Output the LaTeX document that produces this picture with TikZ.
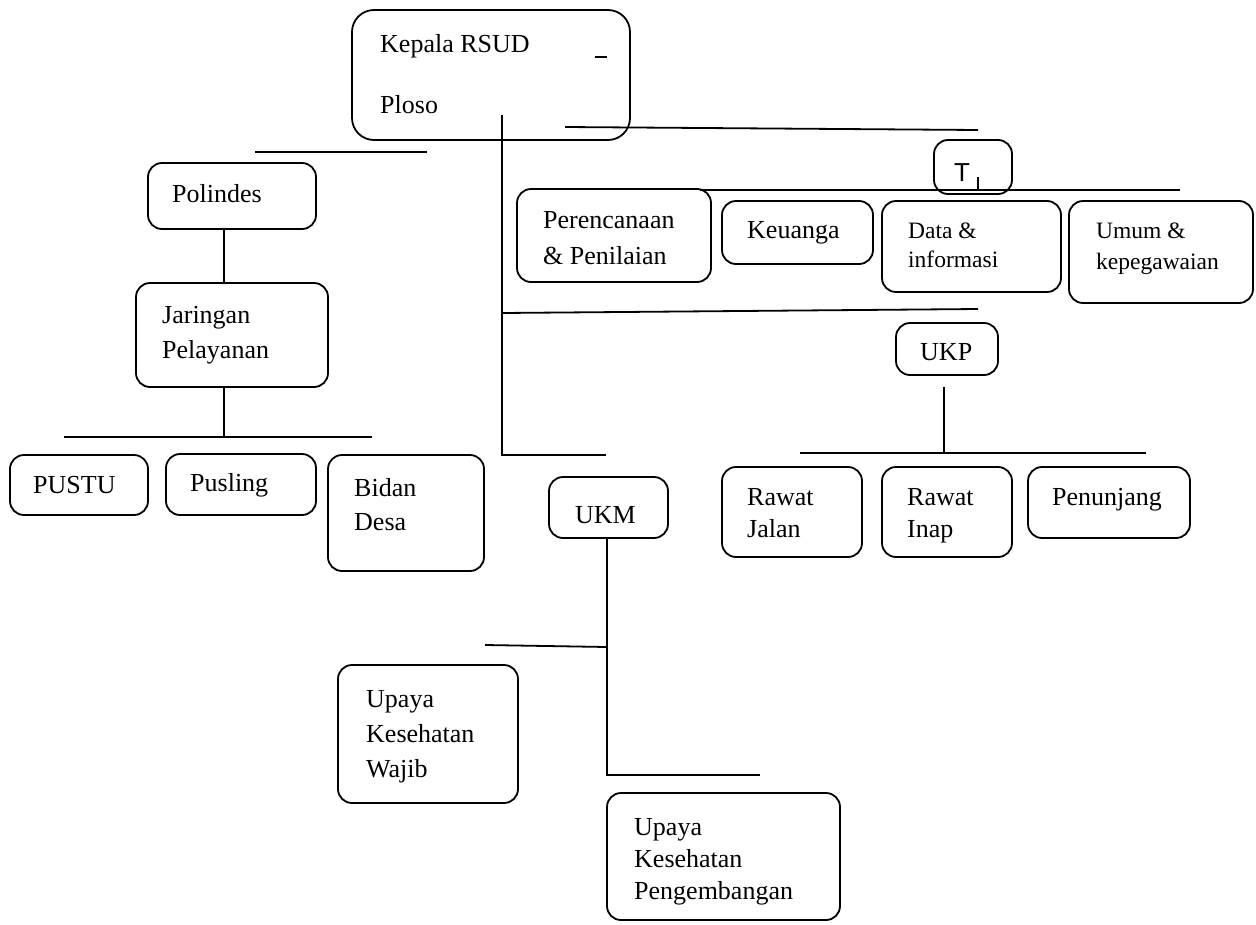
\documentclass[tikz,border=0pt]{standalone}
\usepackage{fontspec}
\setmainfont{Liberation Serif}
\newfontfamily\arialfont{Liberation Sans}
\usetikzlibrary{fit}
\begin{document}
\begin{tikzpicture}[x=1pt,y=-1pt,
  box/.style={draw, line width=1.8pt, rounded corners=14pt, inner sep=0pt},
  bigbox/.style={box, rounded corners=22pt},
  txt/.style={anchor=base west, inner sep=0pt, font=\fontsize{26}{30}\selectfont},
  stxt/.style={anchor=base west, inner sep=0pt, font=\fontsize{23.5}{28}\selectfont},
  ln/.style={line width=1.8pt}]
\useasboundingbox (0,0) rectangle (1256,924);
% boxes
\node[bigbox, fit={(352,10)(630,140)}] (kep) {};
\node[box, fit={(148,163)(316,229)}] (pol) {};
\node[box, fit={(136,283)(328,387)}] (jar) {};
\node[box, fit={(10,455)(148,515)}] (pustu) {};
\node[box, fit={(166,454)(316,515)}] (pusl) {};
\node[box, fit={(328,455)(484,571)}] (bidan) {};
\node[box, fit={(934,140)(1012,194)}] (tbox) {};
\node[box, fit={(517,189)(711,282)}] (per) {};
\node[box, fit={(722,201)(873,264)}] (keu) {};
\node[box, fit={(882,201)(1061,292)}] (data) {};
\node[box, fit={(1069,201)(1253,303)}] (umum) {};
\node[box, fit={(896,323)(998,375)}] (ukp) {};
\node[box, fit={(722,467)(862,557)}] (rj) {};
\node[box, fit={(882,467)(1012,557)}] (ri) {};
\node[box, fit={(1028,467)(1190,538)}] (pen) {};
\node[box, fit={(549,477)(668,538)}] (ukm) {};
\node[box, fit={(338,665)(518,803)}] (wajib) {};
\node[box, fit={(607,793)(840,920)}] (peng) {};
% texts
\node[txt] (t1) at (380,52) {Kepala RSUD};
\node[txt] (t2) at (380,113) {Ploso};
\node[txt] (t3) at (172,202) {Polindes};
\node[txt] (t4) at (162,323) {Jaringan};
\node[txt] (t5) at (162,358) {Pelayanan};
\node[txt] (t6) at (33,493) {PUSTU};
\node[txt] (t7) at (190,491) {Pusling};
\node[txt] (t8) at (354,496) {Bidan};
\node[txt] (t9) at (354,530) {Desa};
\node[txt] (t10) at (543,228) {Perencanaan};
\node[txt] (t11) at (543,264) {\& Penilaian};
\node[txt] (t12) at (747,238) {Keuanga};
\node[stxt] (t13) at (908,238) {Data \&};
\node[stxt] (t14) at (908,267) {informasi};
\node[stxt] (t15) at (1096,238) {Umum \&};
\node[stxt] (t16) at (1096,269) {kepegawaian};
\node[txt] (t17) at (920,360) {UKP};
\node[txt] (t18) at (747,505) {Rawat};
\node[txt] (t19) at (747,537) {Jalan};
\node[txt] (t20) at (907,505) {Rawat};
\node[txt] (t21) at (907,537) {Inap};
\node[txt] (t22) at (1052,505) {Penunjang};
\node[txt] (t23) at (575,523) {UKM};
\node[txt] (t24) at (366,707) {Upaya};
\node[txt] (t25) at (366,742) {Kesehatan};
\node[txt] (t26) at (366,777) {Wajib};
\node[txt] (t27) at (634,835) {Upaya};
\node[txt] (t28) at (634,867) {Kesehatan};
\node[txt] (t29) at (634,899) {Pengembangan};
\node[txt, font=\arialfont\fontsize{26}{30}\selectfont] (t30) at (954,181) {T};
% free-end coordinates
\coordinate (d1) at (595,57); \coordinate (d2) at (607,57);
\coordinate (k1) at (502,115); \coordinate (k2) at (502,455); \coordinate (k3) at (606,455);
\coordinate (k4) at (502,313); \coordinate (k5) at (978,309);
\coordinate (h1) at (565,127); \coordinate (h2) at (978,130);
\coordinate (p1) at (255,152); \coordinate (p2) at (427,152);
\coordinate (j0) at (224,300);
\coordinate (j1) at (224,437); \coordinate (j2) at (64,437); \coordinate (j3) at (372,437);
\coordinate (r1) at (700,190); \coordinate (r2) at (1180,190);
\coordinate (c1) at (978,177); \coordinate (c2) at (978,189);
\coordinate (u1) at (944,387); \coordinate (u2) at (944,453);
\coordinate (u3) at (800,453); \coordinate (u4) at (1146,453);
\coordinate (m2) at (607,775); \coordinate (m3) at (760,775);
\coordinate (m4) at (485,645); \coordinate (m5) at (607,647);
% connectors
\draw[ln] (d1) -- (d2);
\draw[ln] (k1) -- (k2) -- (k3);
\draw[ln] (k4) -- (k5);
\draw[ln] (h1) -- (h2);
\draw[ln] (p1) -- (p2);
\draw[ln] (pol.south -| j0) -- (jar.north -| j0);
\draw[ln] (jar.south -| j1) -- (j1);
\draw[ln] (j2) -- (j3);
\draw[ln] (r1) -- (r2);
\draw[ln, line width=1.2pt] (c1) -- (c2);
\draw[ln] (u1) -- (u2);
\draw[ln] (u3) -- (u4);
\draw[ln] (ukm.south -| m2) -- (m2) -- (m3);
\draw[ln] (m4) -- (m5);
\end{tikzpicture}
\end{document}
